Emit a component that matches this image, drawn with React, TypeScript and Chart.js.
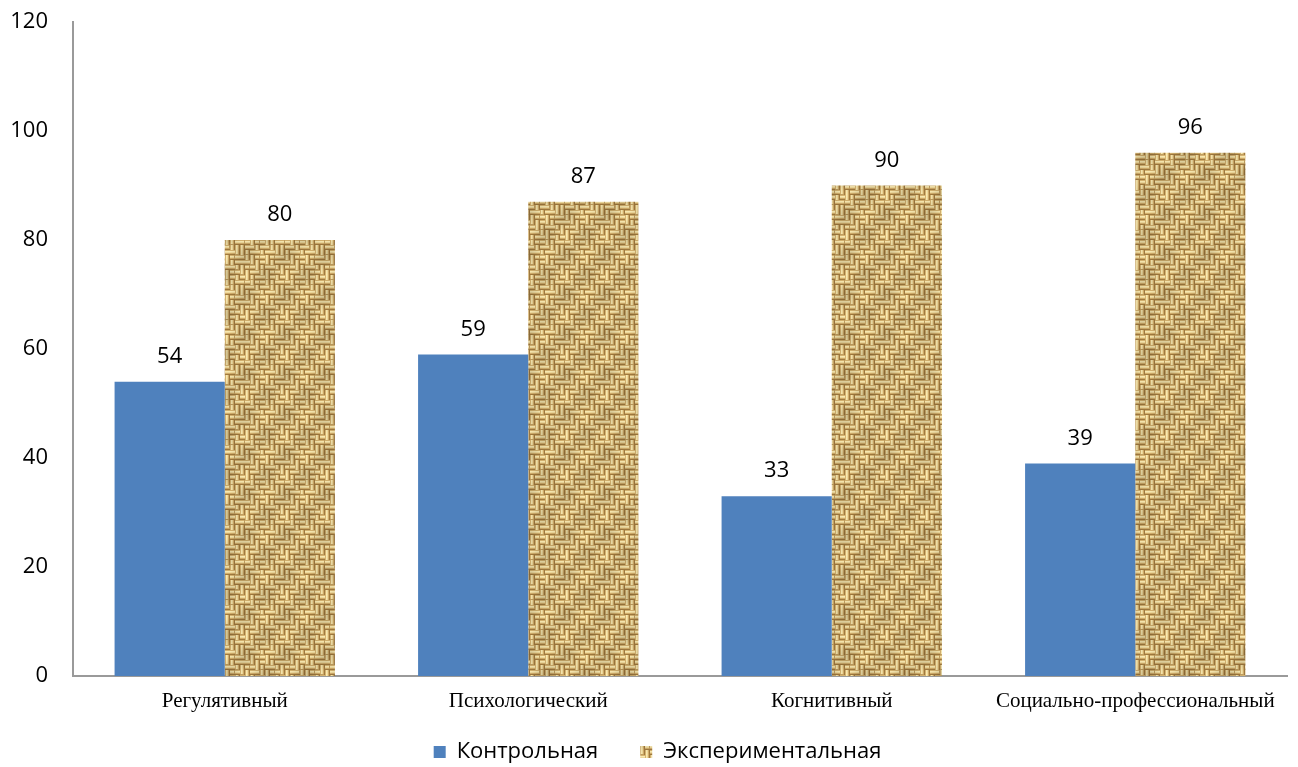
import React, { useEffect, useRef } from "react";
import { Chart, registerables } from "chart.js";

Chart.register(...registerables);

const categories = ["Регулятивный", "Психологический", "Когнитивный", "Социально-профессиональный"];
const seriesNames = ["Контрольная", "Экспериментальная"];
const controlValues = [54, 59, 33, 39];
const experimentalValues = [80, 87, 90, 96];
const yTicks = [0, 20, 40, 60, 80, 100, 120];

const weaveLayout = [
  "HHVHHVVH",
  "VHHVHHVV",
  "VVHHVHHV",
  "HVVHHVHH",
  "HHVVHVVH",
  "VHHVVHHV",
  "VVHHVVHH",
  "HVVHHVHV",
];

function makeBurlap(): CanvasPattern | string {
  const cell = 5;
  const n = 8;
  const size = cell * n;
  const tile = document.createElement("canvas");
  tile.width = size;
  tile.height = size;
  const c = tile.getContext("2d");
  if (!c) return "#C9A96C";
  const img = c.createImageData(size, size);
  const shades = [
    [210, 176, 110],
    [246, 230, 174],
    [236, 214, 154],
    [206, 170, 104],
    [158, 120, 62],
  ];
  for (let py = 0; py < size; py++) {
    for (let px = 0; px < size; px++) {
      const i = Math.floor(px / cell);
      const j = Math.floor(py / cell);
      const horiz = weaveLayout[j][i] === "H";
      const r = horiz ? py % cell : px % cell;
      const along = horiz ? px % cell : py % cell;
      let col = shades[r];
      if (r !== 4 && along === 4 && (i + j) % 3 === 0) col = [190, 156, 94];
      const shade =
        0.94 +
        0.05 * Math.cos(((px + py) / size) * Math.PI * 2) +
        0.03 * Math.sin(((px - py) / size) * Math.PI * 2);
      const o = (py * size + px) * 4;
      img.data[o] = Math.min(255, Math.round(col[0] * shade));
      img.data[o + 1] = Math.min(255, Math.round(col[1] * shade));
      img.data[o + 2] = Math.min(255, Math.round(col[2] * shade));
      img.data[o + 3] = 255;
    }
  }
  c.putImageData(img, 0, 0);
  const p = c.createPattern(tile, "repeat");
  return p || "#C9A96C";
}

const valueLabels = {
  id: "valueLabels",
  afterDatasetsDraw(chart: any) {
    const ctx = chart.ctx;
    ctx.save();
    ctx.font = "22px 'Open Sans', sans-serif";
    ctx.fillStyle = "#000";
    ctx.textAlign = "center";
    ctx.textBaseline = "middle";
    chart.data.datasets.forEach((ds: any, di: number) => {
      const meta = chart.getDatasetMeta(di);
      meta.data.forEach((el: any, i: number) => {
        ctx.fillText(String(ds.data[i]), el.x, el.y - 25);
      });
    });
    ctx.restore();
  },
};

const legendPlacer = {
  id: "legendPlacer",
  afterLayout(chart: any) {
    const lg = chart.legend;
    if (!lg) return;
    lg.top = 752 - 42 - 11;
    lg.bottom = chart.height;
    lg.left += 14;
    lg.right += 14;
  },
};

export default function App() {
  const ref = useRef<HTMLCanvasElement>(null);
  useEffect(() => {
    if (!ref.current) return;
    const pattern = makeBurlap();
    const chart = new Chart(ref.current, {
      type: "bar",
      data: {
        labels: categories,
        datasets: [
          { label: seriesNames[0], data: controlValues, backgroundColor: "#4F81BD", borderWidth: 0 },
          { label: seriesNames[1], data: experimentalValues, backgroundColor: pattern as any, borderWidth: 0 },
        ],
      },
      options: {
        animation: false,
        responsive: false,
        maintainAspectRatio: false,
        layout: { padding: { top: 22, right: 11, left: 0, bottom: 0 } },
        datasets: { bar: { categoryPercentage: 0.726, barPercentage: 1 } },
        plugins: {
          tooltip: { enabled: false },
          legend: {
            position: "bottom",
            maxHeight: 30,
            labels: {
              boxWidth: 12,
              boxHeight: 12,
              padding: 42,
              color: "#000",
              font: { family: "'Open Sans', sans-serif", size: 22 },
            },
          },
        },
        scales: {
          x: {
            grid: { display: false },
            border: { display: true, color: "#9A9A9A", width: 2 },
            afterFit: (s: any) => {
              s.height = 61;
              s.paddingLeft = 0;
              s.paddingRight = 0;
            },
            ticks: {
              color: "#000",
              font: { family: "'Liberation Serif', 'Times New Roman', serif", size: 21 },
              maxRotation: 0,
              autoSkip: false,
              padding: 5,
            },
          },
          y: {
            min: 0,
            max: 120,
            afterBuildTicks: (s: any) => {
              s.ticks = yTicks.map((v) => ({ value: v }));
            },
            afterFit: (s: any) => {
              s.width = 73;
              s.paddingTop = 0;
              s.paddingBottom = 0;
            },
            grid: { display: false },
            border: { display: true, color: "#9A9A9A", width: 2 },
            ticks: {
              color: "#000",
              font: { family: "'Open Sans', sans-serif", size: 22 },
              padding: 17,
            },
          },
        },
      },
      plugins: [valueLabels, legendPlacer],
    });
    return () => chart.destroy();
  }, []);
  return (
    <div style={{ position: "fixed", left: 0, top: 0, width: 1298, height: 767, background: "#fff" }}>
      <canvas ref={ref} width={1298} height={767} style={{ width: 1298, height: 767 }} />
    </div>
  );
}
